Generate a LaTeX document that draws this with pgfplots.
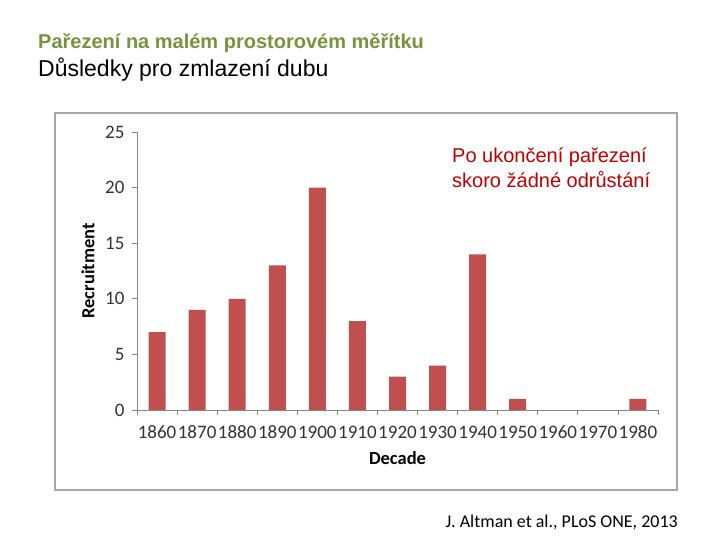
\documentclass[border=0pt]{standalone}
\usepackage{pgfplots}
\pgfplotsset{compat=1.18}
\usepackage{fontspec}
\setmainfont{Liberation Sans}
\newfontfamily\carlito{Carlito}
\definecolor{barred}{HTML}{C0504D}
\definecolor{txtred}{HTML}{C00000}
\definecolor{titlegreen}{HTML}{77933C}
\definecolor{framegray}{HTML}{A6A6A6}
\definecolor{axisgray}{HTML}{868686}
\begin{document}
\begin{tikzpicture}[x=1pt,y=1pt]
\path[fill=white] (0,0) rectangle (720,540);
\draw[framegray, line width=1.3pt] (55,427) rectangle (677,50);
\node[anchor=base west, inner sep=0, text=titlegreen] at (38,491) {\fontsize{20}{22}\selectfont\bfseries Pařezení na malém prostorovém měřítku};
\node[anchor=base west, inner sep=0] at (38,463) {\fontsize{23}{25}\selectfont Důsledky pro zmlazení dubu};
\node[anchor=base west, inner sep=0, text=txtred, font=\fontsize{20}{25}\selectfont] at (452,377) {Po ukončení pařezení};
\node[anchor=base west, inner sep=0, text=txtred, font=\fontsize{20}{25}\selectfont] at (452,352) {skoro žádné odrůstání};
\node[anchor=base east, inner sep=0] at (678,12) {\carlito\fontsize{18}{20}\selectfont J. Altman et al., PLoS ONE, 2013};
\begin{axis}[
  at={(137pt,130pt)}, anchor=south west,
  scale only axis, width=521pt, height=278pt,
  xmin=-0.5, xmax=12.5, ymin=0, ymax=25,
  axis x line*=bottom, axis y line*=left,
  axis line style={draw=axisgray, line width=0.8pt, -},
  every tick/.style={draw=axisgray, line width=0.8pt},
  tick align=outside, major tick length=5pt,
  ytick={0,5,10,15,20,25},
  xtick={-0.5,0.5,...,12.5},
  x tick label as interval,
  xticklabels={1860,1870,1880,1890,1900,1910,1920,1930,1940,1950,1960,1970,1980},
  /pgf/number format/assume math mode=true,
  ticklabel style={font=\carlito\fontsize{19}{19}\selectfont, text=black!80},
  xticklabel style={anchor=base, yshift=-24pt},
  yticklabel style={xshift=-4pt},
  xlabel={Decade}, ylabel={Recruitment},
  label style={font=\carlito\fontsize{18.5}{18.5}\selectfont\bfseries},
  xlabel style={at={(axis description cs:0.5,0)}, anchor=base, yshift=-55pt},
  ylabel style={at={(axis description cs:-0.094,0.5)}, anchor=center},
  ybar, bar width=17pt,
]
\addplot[fill=barred, draw=none] coordinates {
(0,7) (1,9) (2,10) (3,13) (4,20) (5,8) (6,3) (7,4) (8,14) (9,1) (12,1)
};
\end{axis}
\end{tikzpicture}
\end{document}
